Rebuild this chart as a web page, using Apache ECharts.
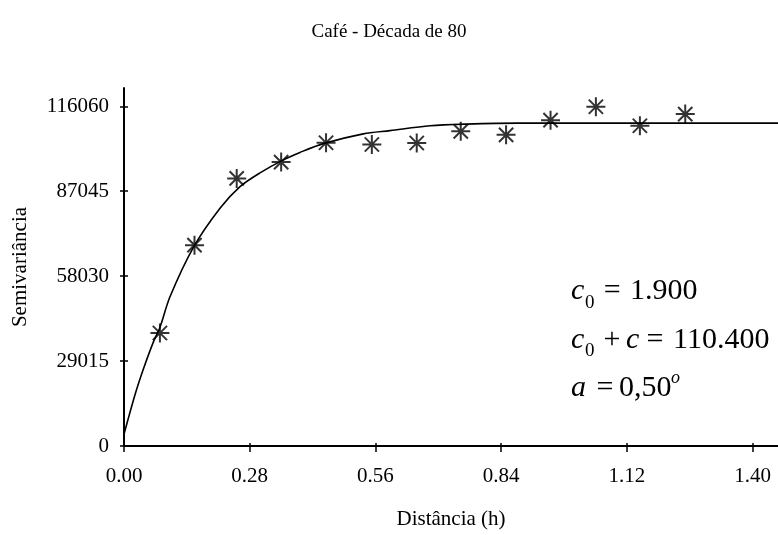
<!DOCTYPE html>
<html>
<head>
<meta charset="utf-8">
<script src="https://cdn.jsdelivr.net/npm/echarts@6/dist/echarts.min.js"></script>
<style>html,body{margin:0;padding:0;background:#fff}#c{width:778px;height:535px}</style>
</head>
<body>
<div id="c"></div>
<script>
// ---- data ----
const titleText = 'Café - Década de 80';
const xName = 'Distância (h)';
const yName = 'Semivariância';
const xTickValues = [0, 0.28, 0.56, 0.84, 1.12, 1.40];
const yTickValues = [0, 29015, 58030, 87045, 116060];
const xMax = 1.4566;
const yMax = 122300;
// experimental semivariance (asterisks)
const lagDist = [0.08, 0.157, 0.251, 0.35, 0.45, 0.552, 0.652, 0.75, 0.851, 0.95, 1.051, 1.149, 1.25];
const semivar = [38600, 68600, 91400, 97000, 103600, 103000, 103500, 107500, 106300, 111300, 115900, 109400, 113400];
// fitted model curve
const modelDist = [0, 0.0245, 0.043, 0.0653, 0.08, 0.1024, 0.1543, 0.2138, 0.2584, 0.3029, 0.3548, 0.392, 0.4439, 0.533, 0.5924, 0.6815, 0.7632, 0.8775, 1.4566];
const modelSemivar = [4000, 17500, 26200, 35500, 40500, 51000, 67800, 81200, 88600, 93300, 97750, 100300, 103300, 106640, 107740, 109400, 109970, 110300, 110300];

const FONT = 'Liberation Serif';
const chart = echarts.init(document.getElementById('c'));

const curve = modelDist.map((d, i) => [d, modelSemivar[i]]);
const pts = lagDist.map((d, i) => [d, semivar[i]]);

function txt(text, x, y, size, italic, align) {
  return {
    type: 'text', x: x, y: y, z: 100,
    style: {
      text: text, fill: '#000',
      font: (italic ? 'italic ' : '') + size + 'px "' + FONT + '"',
      align: align || 'left', verticalAlign: 'middle'
    }
  };
}

chart.setOption({
  animation: false,
  backgroundColor: '#fff',
  title: {
    text: titleText, left: 'center', top: 23, padding: 0,
    textStyle: { fontFamily: FONT, fontWeight: 'normal', fontSize: 19, color: '#000' }
  },
  grid: { left: 124, right: 0, top: 88, bottom: 80, containLabel: false },
  xAxis: [{
    type: 'value', min: 0, max: xMax,
    name: xName, nameLocation: 'middle', nameGap: 63,
    nameTextStyle: { fontFamily: FONT, fontSize: 21, color: '#000' },
    axisLine: { show: true, onZero: false, lineStyle: { color: '#000', width: 2 } },
    axisTick: { show: true, length: 6, customValues: xTickValues, lineStyle: { color: '#000', width: 1.5 } },
    axisLabel: { customValues: xTickValues, margin: 20, fontFamily: FONT, fontSize: 21, color: '#000',
      formatter: v => v.toFixed(2) },
    splitLine: { show: false }
  }, {
    type: 'value', min: 0, max: xMax, position: 'bottom',
    axisLine: { show: false },
    axisTick: { show: true, inside: true, length: 3, customValues: xTickValues, lineStyle: { color: '#000', width: 1.5 } },
    axisLabel: { show: false }, splitLine: { show: false }
  }],
  yAxis: [{
    type: 'value', min: 0, max: yMax,
    name: yName, nameLocation: 'middle', nameGap: 93, nameRotate: 90,
    nameTextStyle: { fontFamily: FONT, fontSize: 21, color: '#000' },
    axisLine: { show: true, onZero: false, lineStyle: { color: '#000', width: 2 } },
    axisTick: { show: true, length: 4, customValues: yTickValues, lineStyle: { color: '#000', width: 1.5 } },
    axisLabel: { customValues: yTickValues, margin: 15, fontFamily: FONT, fontSize: 21, color: '#000',
      formatter: v => String(v) },
    splitLine: { show: false }
  }, {
    type: 'value', min: 0, max: yMax, position: 'left',
    axisLine: { show: false },
    axisTick: { show: true, inside: true, length: 4, customValues: yTickValues, lineStyle: { color: '#000', width: 1.5 } },
    axisLabel: { show: false }, splitLine: { show: false }
  }],
  series: [{
    type: 'line', data: curve, smooth: 0.3, showSymbol: false, symbol: 'none',
    lineStyle: { color: '#000', width: 1.6 }, z: 2
  }, {
    type: 'scatter', data: pts,
    symbol: 'path://M10,0L10,20M0,10L20,10M2.5,2.5L17.5,17.5M2.5,17.5L17.5,2.5',
    symbolSize: 19,
    itemStyle: { color: '#000', borderColor: '#000', borderWidth: 2 }, z: 3
  }],
  graphic: [
    // c0 = 1.900
    txt('c', 571, 291.6, 30, true),
    txt('0', 585, 302.6, 19, false),
    txt('=', 612.3, 291.6, 30, false, 'center'),
    txt('1.900', 630, 291.6, 30, false),
    // c0 + c = 110.400
    txt('c', 571, 339.9, 30, true),
    txt('0', 585, 350.9, 19, false),
    txt('+', 612, 339.9, 30, false, 'center'),
    txt('c', 626, 339.9, 30, true),
    txt('=', 655, 339.9, 30, false, 'center'),
    txt('110.400', 673, 339.9, 30, false),
    // a = 0,50°
    txt('a', 571, 387.9, 30, true),
    txt('=', 605, 387.9, 30, false, 'center'),
    txt('0,50', 619, 387.9, 30, false),
    txt('o', 671, 378, 18, true)
  ]
});
</script>
</body>
</html>
